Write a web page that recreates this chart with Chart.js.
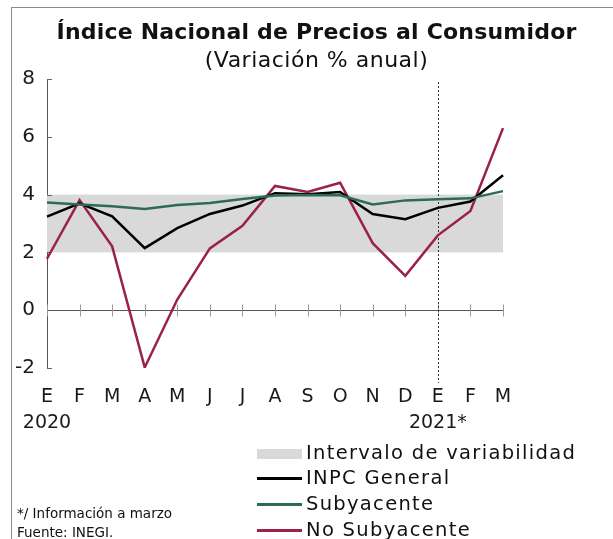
<!DOCTYPE html>
<html>
<head>
<meta charset="utf-8">
<script src="https://cdn.jsdelivr.net/npm/chart.js@4"></script>
<style>
  body { margin: 0; background: #fff; font-family: "DejaVu Sans", sans-serif; color: #111; }
  #wrap { position: relative; width: 613px; height: 539px; overflow: hidden; }
  #frame { position: absolute; left: 11px; top: 7px; right: -5px; bottom: -5px; border-top: 1.5px solid #8a8a8a; border-left: 1.5px solid #8a8a8a; }
  canvas { position: absolute; left: 0; top: 0; }
  .t { position: absolute; white-space: nowrap; }
  #title { left: 0; width: 633px; text-align: center; top: 19px; font-weight: bold; font-size: 22px; letter-spacing: 0.2px; }
  #sub { left: 0; width: 633px; text-align: center; top: 47px; font-size: 22px; letter-spacing: 0.5px; }
  .lg { position: absolute; left: 257px; width: 45px; }
  .lt { position: absolute; left: 306px; font-size: 19.5px; line-height: 20px; letter-spacing: 1.3px; }
  .fn { position: absolute; left: 17px; font-size: 13.5px; line-height: 18px; }
</style>
</head>
<body>
<div id="wrap">
  <div id="frame"></div>
  <canvas id="c" width="613" height="539"></canvas>
  <div class="t" id="title">Índice Nacional de Precios al Consumidor</div>
  <div class="t" id="sub">(Variación % anual)</div>

  <div class="lg" style="top:449px;height:10px;background:#d9d9d9"></div>
  <div class="lt" style="top:443px">Intervalo de variabilidad</div>
  <div class="lg" style="top:477px;height:2.5px;background:#000"></div>
  <div class="lt" style="top:468px">INPC General</div>
  <div class="lg" style="top:503px;height:2.5px;background:#2e6b55"></div>
  <div class="lt" style="top:494px">Subyacente</div>
  <div class="lg" style="top:529px;height:2.5px;background:#9b2247"></div>
  <div class="lt" style="top:520px">No Subyacente</div>

  <div class="fn" style="top:504px">*/ Información a marzo</div>
  <div class="fn" style="top:523px">Fuente: INEGI.</div>
</div>
<script>
// months Jan 2020 - Mar 2021
const months = ['E', 'F', 'M', 'A', 'M', 'J', 'J', 'A', 'S', 'O', 'N', 'D', 'E', 'F', 'M'];
const yearLabels = { 0: '2020', 12: '2021*' };

const inpcGeneral = [3.24, 3.70, 3.25, 2.15, 2.84, 3.33, 3.62, 4.05, 4.01, 4.09, 3.33, 3.15, 3.54, 3.76, 4.67];
const subyacente = [3.73, 3.66, 3.60, 3.50, 3.64, 3.71, 3.85, 3.97, 3.99, 3.98, 3.66, 3.80, 3.84, 3.87, 4.12];
const noSubyacente = [1.78, 3.81, 2.21, -1.98, 0.37, 2.14, 2.92, 4.30, 4.09, 4.41, 2.32, 1.19, 2.59, 3.43, 6.30];

// Banxico variability interval
const bandLow = 2;
const bandHigh = 4;
const markerIndex = 12; // start of 2021

const labels = months.map((m, i) => yearLabels[i] ? [m, yearLabels[i]] : m);

// draws the band, zero axis with ticks, inner y ticks and the dashed year marker
const decorPlugin = {
  id: 'decor',
  beforeDatasetsDraw(chart) {
    const ctx = chart.ctx;
    const x = chart.scales.x;
    const y = chart.scales.y;
    const area = chart.chartArea;

    ctx.save();
    ctx.fillStyle = '#d9d9d9';
    ctx.fillRect(area.left, y.getPixelForValue(bandHigh), area.right - area.left,
      y.getPixelForValue(bandLow) - y.getPixelForValue(bandHigh));

    // y axis inner ticks
    ctx.strokeStyle = '#666';
    ctx.lineWidth = 1;
    y.ticks.forEach(t => {
      const py = Math.round(y.getPixelForValue(t.value)) + 0.5;
      ctx.beginPath();
      ctx.moveTo(area.left, py);
      ctx.lineTo(area.left + 5, py);
      ctx.stroke();
    });

    // zero line
    const y0 = Math.round(y.getPixelForValue(0)) + 0.5;
    ctx.strokeStyle = '#555';
    ctx.beginPath();
    ctx.moveTo(area.left, y0);
    ctx.lineTo(area.right, y0);
    ctx.stroke();
    ctx.strokeStyle = '#999';
    months.forEach((m, i) => {
      const px = Math.round(x.getPixelForValue(i)) + 0.5;
      ctx.beginPath();
      ctx.moveTo(px, y0 - 6);
      ctx.lineTo(px, y0 + 6);
      ctx.stroke();
    });

    // dashed marker
    const mx = Math.round(x.getPixelForValue(markerIndex)) + 0.5;
    ctx.strokeStyle = '#333';
    ctx.setLineDash([2, 2]);
    ctx.beginPath();
    ctx.moveTo(mx, area.top + 3);
    ctx.lineTo(mx, area.bottom + 15);
    ctx.stroke();
    ctx.restore();
  }
};

new Chart(document.getElementById('c'), {
  type: 'line',
  data: {
    labels: labels,
    datasets: [
      { label: 'Subyacente', data: subyacente, borderColor: '#2e6b55', borderWidth: 2.5, pointRadius: 0, tension: 0 },
      { label: 'INPC General', data: inpcGeneral, borderColor: '#000000', borderWidth: 2.5, pointRadius: 0, tension: 0 },
      { label: 'No Subyacente', data: noSubyacente, borderColor: '#9b2247', borderWidth: 2.5, pointRadius: 0, tension: 0 }
    ]
  },
  options: {
    responsive: false,
    animation: false,
    layout: { padding: { left: 0, right: 110, top: 79, bottom: 0 } },
    plugins: { legend: { display: false }, tooltip: { enabled: false } },
    scales: {
      x: {
        offset: false,
        grid: { display: false, drawTicks: false },
        border: { display: false },
        ticks: {
          autoSkip: false, maxRotation: 0, padding: 16,
          color: '#1a1a1a',
          font: { family: 'DejaVu Sans', size: 19, lineHeight: 1.37 }
        },
        afterFit: s => { s.height = 171; }
      },
      y: {
        min: -2, max: 8,
        grid: { display: false, drawTicks: false },
        border: { display: true, color: '#555', width: 1 },
        ticks: {
          stepSize: 2, padding: 12,
          color: '#1a1a1a',
          font: { family: 'DejaVu Sans', size: 20 }
        },
        afterFit: s => { s.width = 47; }
      }
    }
  },
  plugins: [decorPlugin]
});
</script>
</body>
</html>
